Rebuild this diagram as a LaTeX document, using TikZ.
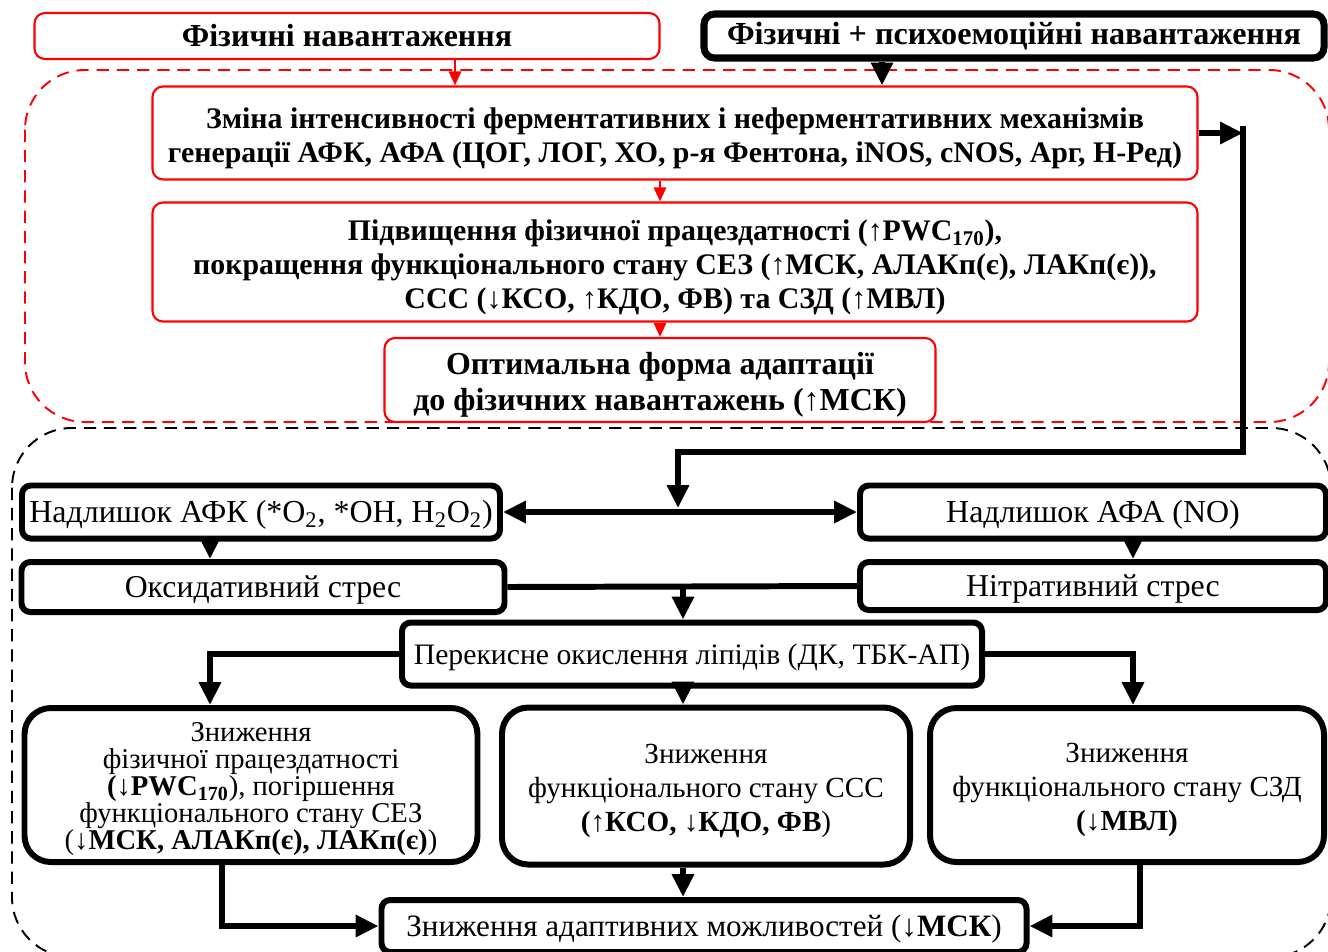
\documentclass[tikz,border=0pt]{standalone}
\usepackage{fontspec}
\setmainfont{Liberation Serif}
\usetikzlibrary{arrows.meta}
\newcommand\lift[1]{\rule{0pt}{#1}}
\tikzset{wh/.style 2 args={minimum width=#1*0.02cm, minimum height=#2*0.02cm}}
\tikzstyle{redbox} = [draw=red, line width=1.2pt, rounded corners=6pt, align=center, inner sep=0pt, font=\bfseries\fontsize{17}{19.3}\selectfont]
\tikzstyle{blkbox} = [draw, line width=3.4pt, rounded corners=5pt, align=center, inner sep=0pt, font=\fontsize{18.2}{21}\selectfont]
\tikzstyle{bigbox} = [blkbox, rounded corners=15pt, font=\fontsize{16.6}{19.3}\selectfont]
\tikzstyle{ra} = [draw=red, line width=1.2pt, -{Triangle[length=8pt,width=7pt]}]
\tikzstyle{ba} = [draw, line width=3.4pt, -{Triangle[length=13pt,width=12pt]}]

\begin{document}
\begin{tikzpicture}[x=0.02cm,y=-0.02cm,dashline/.style={line width=1.1pt,dash pattern=on 7pt off 4.5pt}]
\useasboundingbox (0,0) rectangle (1328,951);
\draw [dashline,red,rounded corners=34pt] (25,70) rectangle (1329,422);
\draw [dashline,rounded corners=34pt] (12,428) rectangle (1331,957);

\node [redbox,font=\bfseries\fontsize{18.2}{20}\selectfont,wh={625}{46}] (load) at (347,36) {Фізичні навантаження};
\node [redbox,font=\bfseries\fontsize{18.3}{20}\selectfont,draw=black,line width=4pt,wh={620}{44}] (psy) at (1014,36) {Фізичні + психоемоційні навантаження};
\node [redbox,wh={1045}{93}] (gen) at (675,133) {\lift{18pt}Зміна інтенсивності ферментативних і неферментативних механізмів\\генерації АФК, АФА (ЦОГ, ЛОГ, ХО, р-я Фентона, iNOS, cNOS, Арг, Н-Ред)};
\node [redbox,wh={1045}{119}] (pwc) at (675,262) {\lift{18pt}Підвищення фізичної працездатності (↑PWC\textsubscript{170}),\\покращення функціонального стану СЕЗ (↑МСК, АЛАКп(є), ЛАКп(є)),\\ССС (↓КСО, ↑КДО, ФВ) та СЗД (↑МВЛ)};
\node [redbox,font=\bfseries\fontsize{18.2}{20.4}\selectfont,wh={551}{84}] (opt) at (660,380) {\lift{18.2pt}Оптимальна форма адаптації\\до фізичних навантажень (↑МСК)};

\node [blkbox,wh={478}{53}] (afk) at (261,512) {\lift{16pt}Надлишок АФК (*O\textsubscript{2}, *OH, H\textsubscript{2}O\textsubscript{2})};
\node [blkbox,wh={466}{53}] (afa) at (1093,512) {\lift{16pt}Надлишок АФА (NO)};
\node [blkbox,font=\fontsize{18.1}{21}\selectfont,wh={483}{50}] (oxs) at (263,587) {\lift{16pt}Оксидативний стрес};
\node [blkbox,font=\fontsize{18.1}{21}\selectfont,wh={466}{48}] (nts) at (1093,586) {\lift{16pt}Нітративний стрес};
\node [blkbox,font=\fontsize{16.9}{21}\selectfont,wh={580}{63}] (pol) at (692,654) {\lift{15.1pt}Перекисне окислення ліпідів (ДК, ТБК-АП)};
\node [bigbox,font=\fontsize{16.3}{15.3}\selectfont,wh={453}{154}] (sez) at (251,785) {\lift{15.6pt}Зниження\\фізичної працездатності\\\textbf{(}↓\textbf{PWC\textsubscript{170}}), погіршення\\функціонального стану СЕЗ\\(↓\textbf{МСК, АЛАКп(є), ЛАКп(є)})};
\node [bigbox,wh={408}{157}] (sss) at (706,786) {\lift{16.6pt}Зниження\\функціонального стану ССС\\\textbf{(↑КСО, }↓\textbf{КДО, ФВ})};
\node [bigbox,wh={394}{154}] (szd) at (1127,785) {\lift{16.6pt}Зниження\\функціонального стану СЗД\\\textbf{(}↓\textbf{МВЛ)}};
\node [blkbox,font=\fontsize{17.7}{21}\selectfont,wh={645}{52}] (ad) at (704,926) {\lift{15.6pt}Зниження адаптивних можливостей (↓\textbf{МСК})};

\coordinate (x1) at (455,0);
\coordinate (x2) at (882,0);
\coordinate (x3) at (210,0);
\coordinate (x4) at (1133,0);
\coordinate (x5) at (683,0);
\coordinate (x6) at (222,0);
\coordinate (x7) at (1140,0);
\coordinate (rt) at (1243,126);
\coordinate (rb) at (1243,452);
\coordinate (lk) at (678,508);

\draw [ra] (load.south -| x1) -- (gen.north -| x1);
\draw [ba] (psy.south -| x2) -- (gen.north -| x2);
\draw [ra] (gen.south -| opt.north) -- (pwc.north -| opt.north);
\draw [ra] (pwc.south -| opt.north) -- (opt.north);
\draw [ba] (gen.east) -- (gen.east -| rt);
\draw [ba] (rt) -- (rb) -| (lk);
\draw [ba,{Triangle[length=13pt,width=12pt]}-{Triangle[length=13pt,width=12pt]}] (afk) -- (afa);
\draw [ba] (afk.south -| x3) -- (oxs.north -| x3);
\draw [ba] (afa.south -| x4) -- (nts.north -| x4);
\draw [line width=3.4pt] (oxs.east) -- (nts.west);
\draw [ba] (oxs.east -| x5) -- (pol.north -| x5);
\draw [ba] (pol.west) -| (sez.north -| x3);
\draw [ba] (pol.south -| x5) -- (sss.north -| x5);
\draw [ba] (pol.east) -| (szd.north -| x4);
\draw [ba] (sez.south -| x6) |- (ad.west);
\draw [ba] (sss.south -| x5) -- (ad.north -| x5);
\draw [ba] (szd.south -| x7) |- (ad.east);
\end{tikzpicture}
\end{document}
